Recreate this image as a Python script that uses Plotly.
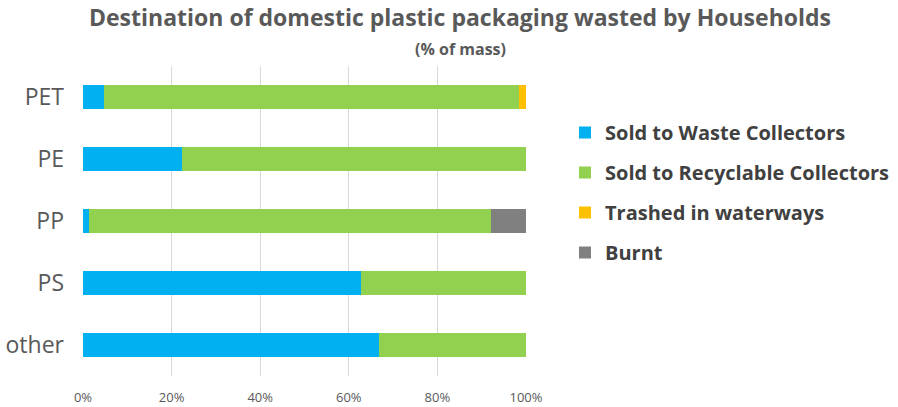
import plotly.graph_objects as go

categories = ["PET", "PE", "PP", "PS", "other"]
waste_collectors = [4.7, 22.3, 1.4, 62.7, 66.9]
recyclable_collectors = [93.7, 77.7, 90.6, 37.3, 33.1]
waterways = [1.6, 0.0, 0.0, 0.0, 0.0]
burnt = [0.0, 0.0, 8.0, 0.0, 0.0]
tick_vals = [0, 20, 40, 60, 80, 100]
tick_text = ["0%", "20%", "40%", "60%", "80%", "100%"]

series = [
    ("Sold to Waste Collectors", waste_collectors, "#00B0F0"),
    ("Sold to Recyclable Collectors", recyclable_collectors, "#92D050"),
    ("Trashed in waterways", waterways, "#FFC000"),
    ("Burnt", burnt, "#808080"),
]

L, R, T, B = 83, 372, 66, 31
W, H = 898, 407
pw, ph = W - L - R, H - T - B

def px_to_paper(px, py):
    return (px - L) / pw, 1 + (T - py) / ph

fig = go.Figure()
for i, (name, vals, color) in enumerate(series):
    fig.add_trace(go.Bar(
        y=categories, x=vals, name=name, orientation="h",
        marker=dict(color=color, line=dict(width=0)),
        legendgroup=str(i),
    ))

tx, ty = px_to_paper(460, 17)
sx, sy = px_to_paper(460, 49)
lx, ly = px_to_paper(565, 113)

fig.update_layout(
    width=W, height=H,
    barmode="stack", bargap=0.6,
    plot_bgcolor="white", paper_bgcolor="white",
    margin=dict(l=L, r=R, t=T, b=B, autoexpand=False),
    font=dict(family="Open Sans, sans-serif", color="#595959"),
    showlegend=True,
    legend=dict(
        x=lx, y=ly, xanchor="left", yanchor="top",
        font=dict(size=20, color="#404040", family="Open Sans, sans-serif", weight="bold"),
        tracegroupgap=11, itemwidth=30,
        bgcolor="rgba(0,0,0,0)",
    ),
    annotations=[
        dict(text="<b>Destination of domestic plastic packaging wasted by Households</b>",
             x=tx, y=ty, xref="paper", yref="paper", showarrow=False,
             xanchor="center", yanchor="middle",
             font=dict(size=23, color="#595959")),
        dict(text="<b>(% of mass)</b>", x=sx, y=sy, xref="paper", yref="paper",
             showarrow=False, xanchor="center", yanchor="middle",
             font=dict(size=16, color="#595959")),
    ],
)

fig.update_xaxes(
    range=[0, 100], tickvals=tick_vals, ticktext=tick_text,
    showgrid=True, gridcolor="#D9D9D9", gridwidth=1,
    zeroline=False, showline=False, automargin=False,
    tickfont=dict(size=13, color="#595959"),
    ticks="", ticklabelstandoff=12,
)
fig.update_yaxes(
    categoryorder="array", categoryarray=categories, autorange="reversed",
    showgrid=False, showline=False, zeroline=False, automargin=False,
    tickfont=dict(size=23, color="#595959"),
    ticks="", ticklabelstandoff=18,
)

fig.write_html(
    "out.html",
    config={"displayModeBar": False},
    post_script="document.body.style.margin='0px';document.body.style.padding='0px';",
)
